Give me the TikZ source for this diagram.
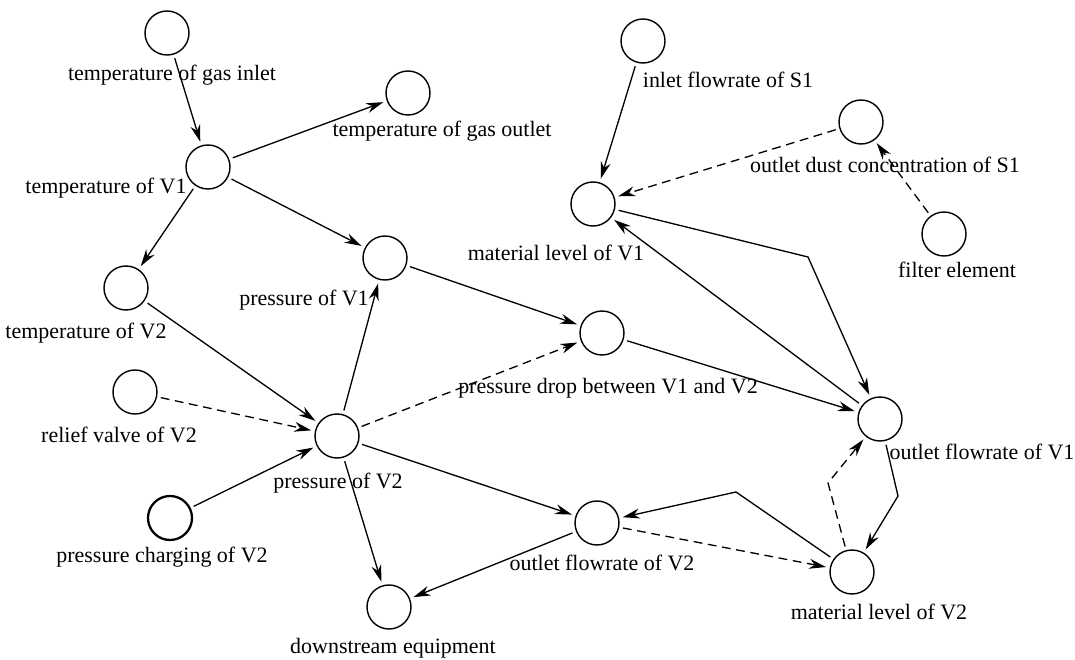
\documentclass[tikz,border=0pt]{standalone}
\usepackage{fontspec}
\setmainfont{Liberation Serif}
\usetikzlibrary{arrows.meta}

\begin{document}
\begin{tikzpicture}[font=\fontsize{12.5}{15}\selectfont,
    var/.style={draw, circle, minimum size=0.88cm, inner sep=0pt, line width=0.8pt, outer sep=2.5pt},
    txt/.style={inner sep=1pt},
    link/.style={draw, line width=0.75pt, -{Stealth[length=3.4mm,width=2mm]}},
    weak/.style={link, dash pattern=on 5pt off 3.2pt}
]
    \useasboundingbox (0,0) rectangle (21.5,-13.2);
    % variables
    \node[var] (tgin) at (3.34,-0.66) {};
    \node[var] (tv1)  at (4.16,-3.34) {};
    \node[var] (tgout) at (8.16,-1.86) {};
    \node[var] (tv2)  at (2.52,-5.76) {};
    \node[var] (pv1)  at (7.70,-5.16) {};
    \node[var] (rv2)  at (2.70,-7.84) {};
    \node[var] (pv2)  at (6.74,-8.72) {};
    \node[var, line width=1.3pt] (pc2) at (3.40,-10.36) {};
    \node[var] (down) at (7.78,-12.14) {};
    \node[var] (of2)  at (11.94,-10.46) {};
    \node[var] (dp)   at (12.04,-6.66) {};
    \node[var] (ml1)  at (11.86,-4.08) {};
    \node[var] (fs1)  at (12.86,-0.82) {};
    \node[var] (dust) at (17.22,-2.44) {};
    \node[var] (filt) at (18.88,-4.68) {};
    \node[var] (of1)  at (17.60,-8.38) {};
    \node[var] (ml2)  at (17.04,-11.44) {};
    % labels
    \node[txt] (tgin-l) at (3.44,-1.50) {temperature of gas inlet};
    \node[txt] (tgout-l) at (8.84,-2.62) {temperature of gas outlet};
    \node[txt] (tv1-l) at (2.12,-3.76) {temperature of V1};
    \node[txt] (tv2-l) at (1.72,-6.66) {temperature of V2};
    \node[txt] (pv1-l) at (6.08,-6.00) {pressure of V1};
    \node[txt] (dp-l) at (12.16,-7.76) {pressure drop between V1 and V2};
    \node[txt] (rv2-l) at (2.38,-8.70) {relief valve of V2};
    \node[txt] (pv2-l) at (6.76,-9.66) {pressure of V2};
    \node[txt] (pc2-l) at (3.24,-11.14) {pressure charging of V2};
    \node[txt] (of2-l) at (12.04,-11.26) {outlet flowrate of V2};
    \node[txt] (down-l) at (7.86,-12.96) {downstream equipment};
    \node[txt] (fs1-l) at (14.56,-1.60) {inlet flowrate of S1};
    \node[txt] (dust-l) at (17.70,-3.30) {outlet dust concentration of S1};
    \node[txt] (filt-l) at (19.14,-5.40) {filter element};
    \node[txt] (ml1-l) at (11.12,-5.06) {material level of V1};
    \node[txt] (of1-l) at (19.64,-9.04) {outlet flowrate of V1};
    \node[txt] (ml2-l) at (17.58,-12.24) {material level of V2};
    % bend points
    \coordinate (b1) at (16.16,-5.14);
    \coordinate (b2) at (17.96,-9.92);
    \coordinate (b3) at (14.72,-9.84);
    \coordinate (b4) at (16.56,-9.66);
    % edges
    \draw[link] (tgin) -- (tv1);
    \draw[link] (tv1) -- (tgout);
    \draw[link] (tv1) -- (tv2);
    \draw[link] (tv1) -- (pv1);
    \draw[link] (tv2) -- (pv2);
    \draw[weak] (rv2) -- (pv2);
    \draw[link] (pc2) -- (pv2);
    \draw[link] (pv2) -- (pv1);
    \draw[link] (pv1) -- (dp);
    \draw[weak] (pv2) -- (dp);
    \draw[link] (pv2) -- (of2);
    \draw[link] (pv2) -- (down);
    \draw[link] (of2) -- (down);
    \draw[link] (dp) -- (of1);
    \draw[link] (fs1) -- (ml1);
    \draw[weak] (dust) -- (ml1);
    \draw[weak] (filt) -- (dust);
    \draw[link] (ml1) -- (b1) -- (of1);
    \draw[link] (of1) -- (ml1);
    \draw[link] (of1) -- (b2) -- (ml2);
    \draw[link] (ml2) -- (b3) -- (of2);
    \draw[weak] (of2) -- (ml2);
    \draw[weak] (ml2) -- (b4) -- (of1);
\end{tikzpicture}
\end{document}
